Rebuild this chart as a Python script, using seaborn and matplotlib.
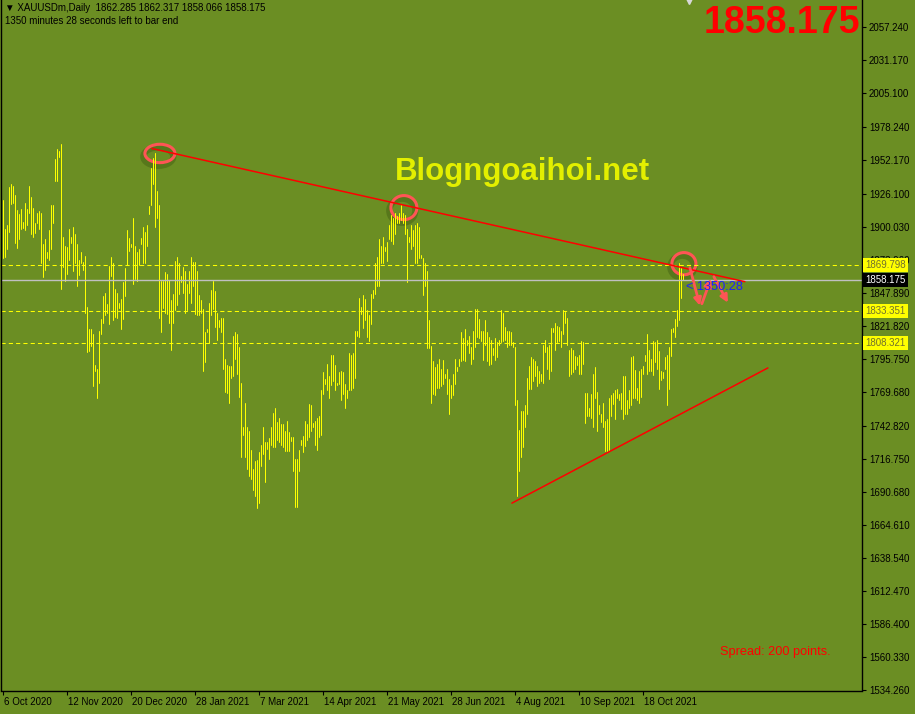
import numpy as np
import pandas as pd
import seaborn as sns
import matplotlib.pyplot as plt
import matplotlib.transforms as mtransforms
from matplotlib.patches import Ellipse

# daily high / low of XAUUSDm, one value per bar
highs = [1921, 1898, 1901, 1931, 1934, 1932, 1925, 1913, 1910, 1914,
         1904, 1919, 1914, 1932, 1923, 1915, 1903, 1911, 1912, 1911,
         1886, 1890, 1880, 1897, 1917, 1917, 1953, 1961, 1960, 1965,
         1892, 1885, 1884, 1898, 1892, 1900, 1894, 1886, 1874, 1880,
         1872, 1877, 1837, 1819, 1819, 1815, 1791, 1788, 1818, 1827,
         1845, 1848, 1839, 1869, 1876, 1871, 1851, 1848, 1840, 1843,
         1856, 1867, 1897, 1891, 1886, 1907, 1885, 1880, 1882, 1891,
         1900, 1896, 1901, 1916, 1946, 1954, 1958, 1928, 1917, 1857,
         1857, 1864, 1863, 1858, 1842,
         1847, 1873, 1876, 1871, 1861, 1868, 1865, 1855, 1865, 1876,
         1872, 1872, 1865, 1846, 1842, 1835, 1817, 1819, 1840, 1850,
         1857, 1849, 1832, 1826, 1828, 1828, 1796, 1791, 1790, 1790,
         1814, 1817, 1815, 1805, 1777, 1742, 1761, 1742, 1739, 1724,
         1709, 1715, 1716, 1722, 1728, 1742, 1730, 1730, 1733, 1742,
         1753, 1757, 1746, 1749, 1744, 1744, 1739, 1747, 1738, 1734,
         1734, 1717, 1717, 1724, 1732, 1735, 1747, 1744, 1760, 1759,
         1745, 1747, 1749, 1751, 1771, 1785, 1780, 1792, 1782, 1799,
         1799, 1791, 1777, 1785, 1786, 1785,
         1776, 1771, 1800, 1799, 1800, 1818, 1818, 1844, 1837, 1846,
         1843, 1834, 1830, 1847, 1850, 1871, 1876, 1890, 1885, 1892,
         1884, 1888, 1901, 1909, 1907, 1911, 1908, 1911, 1917, 1911,
         1909, 1898, 1892, 1901, 1897, 1901, 1903, 1900, 1878, 1875,
         1871, 1865, 1826, 1806, 1794, 1789, 1792, 1796, 1788, 1795,
         1784, 1788, 1780, 1775, 1784, 1796, 1789, 1796, 1817, 1812,
         1819, 1811, 1814, 1805, 1818, 1835, 1835, 1827, 1818, 1818,
         1826, 1817, 1813, 1811, 1804, 1812, 1809, 1811, 1834, 1832,
         1821, 1818, 1818, 1817, 1809, 1805,
         1763, 1740, 1755, 1755, 1759, 1781, 1790, 1797, 1796, 1794,
         1790, 1786, 1784, 1807, 1811, 1805, 1807, 1820, 1820, 1824,
         1822, 1821, 1818, 1834, 1833, 1828, 1803, 1804, 1803, 1798,
         1797, 1799, 1810, 1809, 1769, 1769, 1757, 1768, 1784, 1789,
         1770, 1759, 1752, 1761, 1747, 1748, 1765, 1767, 1769, 1771,
         1772, 1768, 1769, 1782, 1782, 1763, 1771, 1797, 1798, 1787,
         1773, 1786, 1788, 1790, 1799, 1815, 1803, 1796, 1810, 1809,
         1811, 1802, 1786, 1785, 1797, 1799, 1805, 1819, 1820, 1827,
         1834, 1871, 1867, 1862.317]
lows = [1875, 1876, 1882, 1896, 1918, 1919, 1887, 1883, 1890, 1898,
        1899, 1897, 1901, 1911, 1894, 1892, 1895, 1903, 1898, 1871,
        1860, 1866, 1875, 1874, 1882, 1903, 1936, 1936, 1955, 1851,
        1868, 1857, 1863, 1874, 1887, 1865, 1871, 1853, 1862, 1871,
        1866, 1832, 1801, 1802, 1806, 1774, 1786, 1765, 1777, 1815,
        1824, 1830, 1832, 1823, 1861, 1826, 1829, 1828, 1836, 1819,
        1827, 1845, 1870, 1881, 1884, 1855, 1859, 1857, 1870, 1886,
        1871, 1871, 1885, 1910, 1917, 1934, 1900, 1907, 1828, 1817,
        1836, 1832, 1831, 1824, 1803,
        1824, 1834, 1838, 1847, 1856, 1848, 1832, 1834, 1848, 1840,
        1853, 1831, 1830, 1830, 1832, 1786, 1793, 1817, 1808, 1830,
        1835, 1821, 1811, 1821, 1817, 1788, 1770, 1769, 1761, 1781,
        1782, 1796, 1784, 1766, 1718, 1736, 1718, 1709, 1703, 1701,
        1692, 1688, 1678, 1682, 1711, 1721, 1699, 1725, 1717, 1728,
        1726, 1726, 1732, 1730, 1728, 1726, 1723, 1723, 1723, 1731,
        1707, 1679, 1679, 1707, 1728, 1722, 1727, 1732, 1734, 1739,
        1742, 1728, 1724, 1734, 1736, 1768, 1776, 1771, 1765, 1775,
        1778, 1771, 1775, 1776, 1763, 1768,
        1757, 1765, 1771, 1771, 1773, 1781, 1814, 1813, 1831, 1820,
        1826, 1813, 1810, 1823, 1844, 1847, 1853, 1853, 1871, 1871,
        1881, 1873, 1890, 1889, 1886, 1894, 1903, 1903, 1905, 1903,
        1894, 1856, 1888, 1882, 1885, 1871, 1871, 1875, 1875, 1846,
        1853, 1804, 1804, 1761, 1768, 1767, 1773, 1773, 1774, 1776,
        1781, 1768, 1752, 1765, 1767, 1776, 1786, 1790, 1794, 1795,
        1794, 1807, 1800, 1792, 1796, 1805, 1813, 1812, 1810, 1795,
        1807, 1794, 1791, 1792, 1799, 1795, 1797, 1807, 1809, 1810,
        1811, 1805, 1807, 1807, 1805, 1759,
        1688, 1707, 1718, 1726, 1742, 1752, 1772, 1772, 1778, 1782,
        1774, 1777, 1778, 1777, 1801, 1788, 1780, 1786, 1817, 1803,
        1809, 1810, 1805, 1815, 1824, 1807, 1782, 1784, 1785, 1788,
        1791, 1784, 1784, 1792, 1745, 1751, 1751, 1749, 1742, 1765,
        1739, 1752, 1746, 1742, 1723, 1723, 1724, 1751, 1760, 1748,
        1765, 1763, 1756, 1748, 1752, 1752, 1757, 1759, 1765, 1765,
        1763, 1761, 1766, 1784, 1794, 1784, 1786, 1786, 1783, 1793,
        1788, 1772, 1779, 1781, 1788, 1759, 1772, 1798, 1817, 1813,
        1822, 1826, 1844, 1858.066]

price_ticks = [2057.240, 2031.170, 2005.100, 1978.240, 1952.170, 1926.100,
               1900.030, 1873.960, 1847.890, 1821.820, 1795.750, 1769.680,
               1742.820, 1716.750, 1690.680, 1664.610, 1638.540, 1612.470,
               1586.400, 1560.330, 1534.260]
date_ticks = [0, 32, 64, 96, 128, 160, 192, 224, 256, 288, 320]
date_labels = ["6 Oct 2020", "12 Nov 2020", "20 Dec 2020", "28 Jan 2021",
               "7 Mar 2021", "14 Apr 2021", "21 May 2021", "28 Jun 2021",
               "4 Aug 2021", "10 Sep 2021", "18 Oct 2021"]
level_prices = [1869.798, 1833.351, 1808.321]
last_price = 1858.175
ohlc_now = [1862.285, 1862.317, 1858.066, 1858.175]

# hand-drawn objects: (bar, price) anchors
resist_bar, resist_price = [74.7, 371.2], [1961.6, 1856.6]
support_bar, support_price = [254.7, 382.7], [1682.0, 1788.6]
circle_bar = [78.7, 200.7, 340.7]
circle_price = [1957.7, 1915.0, 1870.8]
circle_w = [15, 13, 12]
circle_h = [14.5, 19, 17.5]
arrow_from = [(343.7, 1867.6), (349.7, 1839.2), (355.7, 1860.5)]
arrow_to = [(348.7, 1837.6), (354.2, 1858.9), (362.7, 1840.0)]

bg = "#6B8E23"
sns.set_theme(style="ticks")
plt.rcParams["font.family"] = ["Liberation Sans", "DejaVu Sans"]

fig = plt.figure(figsize=(9.15, 7.14), dpi=100)
fig.patch.set_facecolor(bg)
ax = fig.add_axes([1 / 915, (714 - 690.5) / 714, 861 / 915, 690.5 / 714])
ax.set_facecolor(bg)

n = len(highs)
bars = pd.DataFrame({
    "bar": np.repeat(np.arange(n), 2),
    "price": np.column_stack([lows, highs]).ravel(),
})
# 1 px wide high-low bars
sns.lineplot(data=bars, x="bar", y="price", units="bar", estimator=None,
             color="#FFFF00", lw=0.72, ax=ax, legend=False)

for lv in level_prices:
    ax.axhline(lv, color="#FFFF00", lw=0.75, ls=(0, (4, 3)))
ax.axhline(last_price, color="#C0C0C0", lw=1.0)

ax.plot(resist_bar, resist_price, color="#FF0000", lw=1.1)
ax.plot(support_bar, support_price, color="#FF0000", lw=1.1)

for cx, cy, w, h in zip(circle_bar, circle_price, circle_w, circle_h):
    ax.add_patch(Ellipse((cx - 0.8, cy - 2.5), w, h, fill=False,
                         ec="#3F5C12", lw=4.5, alpha=0.45))
    ax.add_patch(Ellipse((cx, cy), w, h, fill=False, ec="#FF5555", lw=2.2))

for a, b in zip(arrow_from, arrow_to):
    ax.annotate("", xy=b, xytext=a,
                arrowprops=dict(arrowstyle="-|>", color="#FF5555", lw=2,
                                mutation_scale=11, shrinkA=0, shrinkB=0))

ax.text(342, 1852.6, "< 1350:28", color="#1E1EFF", fontsize=9.2,
        ha="left", va="center")

# 2 px per bar, bar centres on pixel centres
ax.set_xlim(-0.75, 429.75)
ax.set_ylim(1534.26, 2078.7)
ax.set_xlabel("")
ax.set_ylabel("")

ax.yaxis.tick_right()
ax.set_yticks(price_ticks, [f"{p:.3f}" for p in price_ticks])
ax.set_xticks(date_ticks, date_labels)
ax.tick_params(axis="both", colors="black", labelsize=7, length=3,
               width=0.8, direction="out")
ax.tick_params(axis="y", pad=2)
ax.tick_params(axis="x", pad=1.5)
shift = mtransforms.ScaledTranslation(1 / 100, 0, fig.dpi_scale_trans)
for lbl in ax.get_xticklabels():
    lbl.set_horizontalalignment("left")
    lbl.set_transform(lbl.get_transform() + shift)

for side in ["left", "right", "bottom"]:
    ax.spines[side].set_color("black")
    ax.spines[side].set_linewidth(1)
ax.spines["top"].set_visible(False)

# price-line labels on the scale (they cover the 1873.960 tick, as in MT4)
yt = mtransforms.blended_transform_factory(ax.transAxes, ax.transData)
for lv in level_prices:
    ax.text(1.004, lv, f"{lv:.3f}", transform=yt, fontsize=7, color="#70702E",
            ha="left", va="center", clip_on=False, zorder=10,
            bbox=dict(boxstyle="square,pad=0.2", fc="#FFFF00", ec="none"))
ax.text(1.004, last_price, f"{last_price:.3f}", transform=yt, fontsize=7,
        color="white", ha="left", va="center", clip_on=False, zorder=10,
        bbox=dict(boxstyle="square,pad=0.2", fc="black", ec="none"))

# chart shift marker
ax.plot([n + 2], [1], transform=mtransforms.blended_transform_factory(ax.transData, ax.transAxes),
        marker="v", color="#D8D8D8", ms=6, clip_on=False)

fig.text(5 / 915, 1 - 8 / 714,
         "\u25bc XAUUSDm,Daily  " + " ".join(f"{v:.3f}" for v in ohlc_now),
         fontsize=7, color="black", ha="left", va="center")
fig.text(5 / 915, 1 - 21 / 714, "1350 minutes 28 seconds left to bar end",
         fontsize=7, color="black", ha="left", va="center")
fig.text(860 / 915, 1 - 23 / 714, f"{last_price:.3f}", fontsize=27,
         fontweight="bold", color="#FF0000", ha="right", va="center")
fig.text(522 / 915, 1 - 172 / 714, "Blogngoaihoi.net", fontsize=22.5,
         fontweight="bold", color="#E3EF00", ha="center", va="center")
fig.text(720 / 915, 1 - 652 / 714, "Spread: 200 points.", fontsize=9.2,
         color="#FF0000", ha="left", va="center")

fig.savefig("out.png", dpi=100, facecolor=bg)
